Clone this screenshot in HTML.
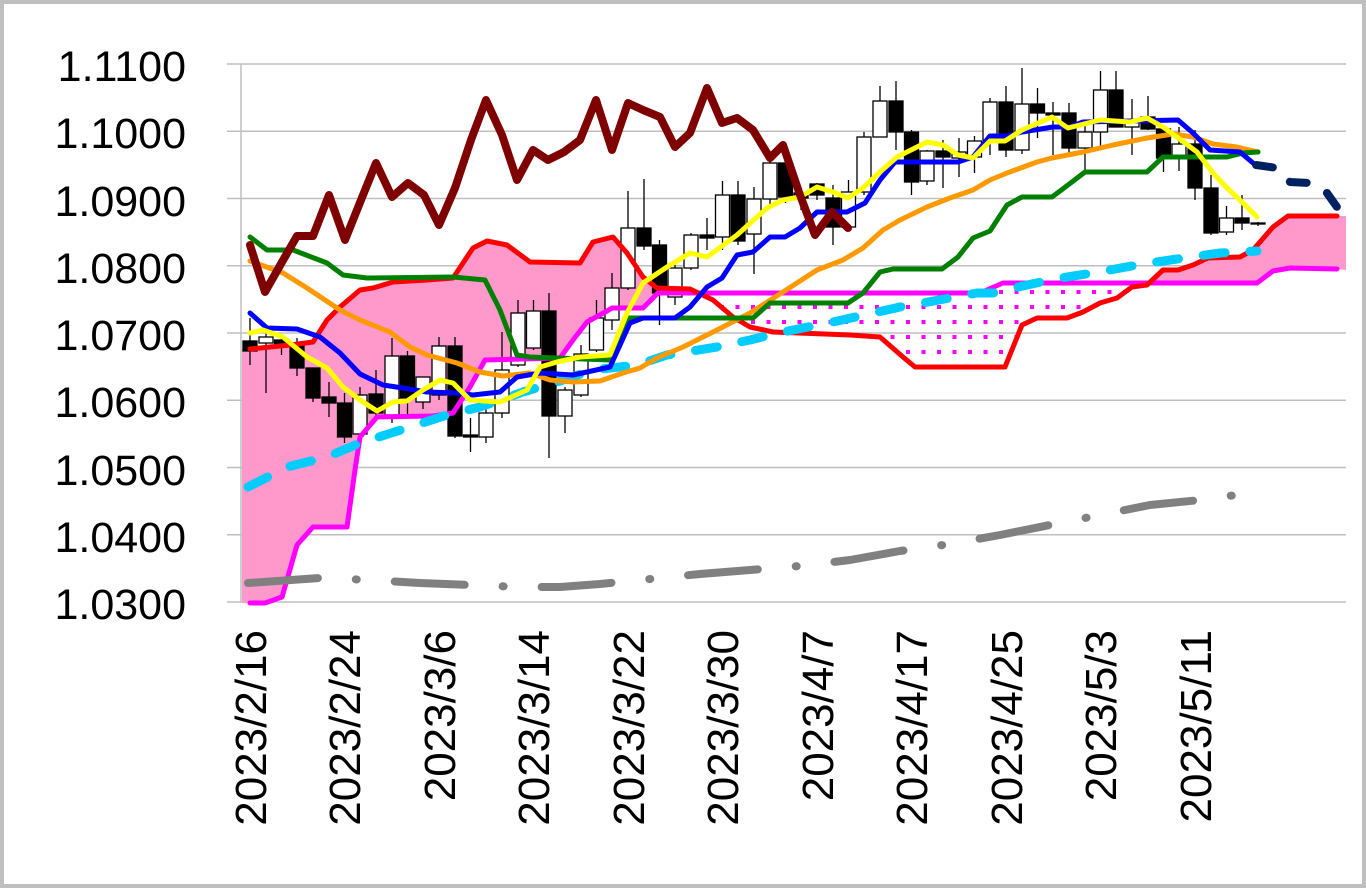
<!DOCTYPE html>
<html><head><meta charset="utf-8"><style>html,body{margin:0;padding:0;background:#fff}svg{display:block}</style></head><body>
<svg width="1366" height="888" viewBox="0 0 1366 888" xmlns="http://www.w3.org/2000/svg">
<defs>
<pattern id="dots" x="2" y="0" width="15.5" height="15" patternUnits="userSpaceOnUse"><rect x="5" y="5" width="4" height="4" fill="#ff00ff"/></pattern>
</defs>
<rect x="0" y="0" width="1366" height="888" fill="#fff"/>
<rect x="2" y="2" width="1362" height="884" fill="none" stroke="#bfbfbf" stroke-width="4"/>
<g stroke="#bfbfbf" stroke-width="1.5">
<line x1="227" y1="64" x2="1346" y2="64"/><line x1="227" y1="131.25" x2="1346" y2="131.25"/><line x1="227" y1="198.5" x2="1346" y2="198.5"/><line x1="227" y1="265.75" x2="1346" y2="265.75"/><line x1="227" y1="333" x2="1346" y2="333"/><line x1="227" y1="400.25" x2="1346" y2="400.25"/><line x1="227" y1="467.5" x2="1346" y2="467.5"/><line x1="227" y1="534.75" x2="1346" y2="534.75"/><line x1="227" y1="602" x2="1346" y2="602"/>
<line x1="241" y1="64" x2="241" y2="602"/>
</g>
<g font-family="Liberation Sans, Arial, sans-serif" font-size="43" text-anchor="end" fill="#000">
<text x="186" y="81">1.1100</text><text x="186" y="148">1.1000</text><text x="186" y="216">1.0900</text><text x="186" y="283">1.0800</text><text x="186" y="350">1.0700</text><text x="186" y="417">1.0600</text><text x="186" y="485">1.0500</text><text x="186" y="552">1.0400</text><text x="186" y="619">1.0300</text>
</g>
<g font-family="Liberation Sans, Arial, sans-serif" font-size="44" text-anchor="end" fill="#000">
<text transform="translate(266,630) rotate(-90)">2023/2/16</text>
<text transform="translate(360,630) rotate(-90)">2023/2/24</text>
<text transform="translate(455,630) rotate(-90)">2023/3/6</text>
<text transform="translate(549,630) rotate(-90)">2023/3/14</text>
<text transform="translate(644,630) rotate(-90)">2023/3/22</text>
<text transform="translate(738,630) rotate(-90)">2023/3/30</text>
<text transform="translate(833,630) rotate(-90)">2023/4/7</text>
<text transform="translate(927,630) rotate(-90)">2023/4/17</text>
<text transform="translate(1022,630) rotate(-90)">2023/4/25</text>
<text transform="translate(1116,630) rotate(-90)">2023/5/3</text>
<text transform="translate(1211,630) rotate(-90)">2023/5/11</text>
</g>
<polygon fill="#ff99cc" points="242,349 250,349 270,347 290,345 313,342 327,320 340,307 360,290 373,288 393,282 427,280 453,278 473,248 487,241 507,245 530,262 580,263 593,242 613,237 627,253 643,277 657,288 660,291 658,293 643,308 612,308 607,311 587,322 573,340 560,358 485,360 470,387 453,413 433,416 377,417 360,437 355,470 347,527 313,527 297,545 282,597 265,603 242,603"/>
<polygon fill="url(#dots)" points="658,293 980,293 1003,283 1140,283 1132,287 1117,298 1100,303 1083,312 1067,318 1037,318 1022,325 1005,367 915,367 903,357 880,337 850,335 773,332 750,327 733,317 713,300 690,289 660,291"/>
<polygon fill="#ff99cc" points="1140,285 1147,285 1163,270 1178,270 1193,265 1208,258 1240,257 1253,250 1273,227 1288,216 1346,216 1346,270 1337,269 1290,268 1273,271 1257,283 1140,283"/>
<g stroke="#000" stroke-width="1.3">
<line x1="250" y1="318" x2="250" y2="365"/><rect x="243" y="341" width="14" height="10" fill="#000"/>
<line x1="266" y1="330" x2="266" y2="393"/><rect x="259" y="337" width="14" height="6" fill="#fff"/>
<line x1="281.5" y1="337" x2="281.5" y2="355"/><rect x="274.5" y="340" width="14" height="5" fill="#000"/>
<line x1="297" y1="338" x2="297" y2="376"/><rect x="290" y="343" width="14" height="25" fill="#000"/>
<line x1="313" y1="368" x2="313" y2="402"/><rect x="306" y="368" width="14" height="30" fill="#000"/>
<line x1="329" y1="382" x2="329" y2="417"/><rect x="322" y="397" width="14" height="6" fill="#000"/>
<line x1="344.5" y1="393" x2="344.5" y2="443"/><rect x="337.5" y="403" width="14" height="34" fill="#000"/>
<line x1="360" y1="387" x2="360" y2="437"/><rect x="353" y="395" width="14" height="39" fill="#fff"/>
<line x1="376" y1="370" x2="376" y2="415"/><rect x="369" y="394" width="14" height="19" fill="#000"/>
<line x1="392" y1="338" x2="392" y2="423"/><rect x="385" y="356" width="14" height="59" fill="#fff"/>
<line x1="407.5" y1="351" x2="407.5" y2="415"/><rect x="400.5" y="356" width="14" height="42" fill="#000"/>
<line x1="423" y1="377" x2="423" y2="409"/><rect x="416" y="377" width="14" height="25" fill="#fff"/>
<line x1="439" y1="337" x2="439" y2="400"/><rect x="432" y="346" width="14" height="49" fill="#fff"/>
<line x1="455" y1="337" x2="455" y2="438"/><rect x="448" y="346" width="14" height="90" fill="#000"/>
<line x1="470.5" y1="418" x2="470.5" y2="452"/><rect x="463.5" y="435" width="14" height="2" fill="#000"/>
<line x1="486" y1="407" x2="486" y2="443"/><rect x="479" y="413" width="14" height="24" fill="#fff"/>
<line x1="502" y1="332" x2="502" y2="418"/><rect x="495" y="370" width="14" height="43" fill="#fff"/>
<line x1="518" y1="300" x2="518" y2="367"/><rect x="511" y="313" width="14" height="52" fill="#fff"/>
<line x1="533.5" y1="300" x2="533.5" y2="350"/><rect x="526.5" y="311" width="14" height="37" fill="#fff"/>
<line x1="549" y1="293" x2="549" y2="458"/><rect x="542" y="311" width="14" height="105" fill="#000"/>
<line x1="565" y1="387" x2="565" y2="433"/><rect x="558" y="390" width="14" height="26" fill="#fff"/>
<line x1="581" y1="345" x2="581" y2="397"/><rect x="574" y="354" width="14" height="41" fill="#fff"/>
<line x1="596.5" y1="300" x2="596.5" y2="352"/><rect x="589.5" y="318" width="14" height="32" fill="#fff"/>
<line x1="612" y1="273" x2="612" y2="330"/><rect x="605" y="288" width="14" height="32" fill="#fff"/>
<line x1="628" y1="191" x2="628" y2="290"/><rect x="621" y="228" width="14" height="60" fill="#fff"/>
<line x1="644" y1="179" x2="644" y2="250"/><rect x="637" y="228" width="14" height="18" fill="#000"/>
<line x1="659.5" y1="240" x2="659.5" y2="325"/><rect x="652.5" y="245" width="14" height="48" fill="#000"/>
<line x1="675" y1="265" x2="675" y2="305"/><rect x="668" y="268" width="14" height="29" fill="#fff"/>
<line x1="691" y1="233" x2="691" y2="270"/><rect x="684" y="235" width="14" height="33" fill="#fff"/>
<line x1="707" y1="218" x2="707" y2="250"/><rect x="700" y="235" width="14" height="3" fill="#000"/>
<line x1="722.5" y1="181" x2="722.5" y2="250"/><rect x="715.5" y="195" width="14" height="42" fill="#fff"/>
<line x1="738" y1="181" x2="738" y2="245"/><rect x="731" y="195" width="14" height="46" fill="#000"/>
<line x1="754" y1="187" x2="754" y2="274"/><rect x="747" y="199" width="14" height="35" fill="#fff"/>
<line x1="770" y1="155" x2="770" y2="205"/><rect x="763" y="163" width="14" height="36" fill="#fff"/>
<line x1="785.5" y1="155" x2="785.5" y2="203"/><rect x="778.5" y="163" width="14" height="34" fill="#000"/>
<line x1="801" y1="188" x2="801" y2="210"/><rect x="794" y="193" width="14" height="5" fill="#000"/>
<line x1="817" y1="183" x2="817" y2="200"/><rect x="810" y="184" width="14" height="11" fill="#000"/>
<line x1="833" y1="185" x2="833" y2="245"/><rect x="826" y="198" width="14" height="29" fill="#000"/>
<line x1="848.5" y1="180" x2="848.5" y2="227"/><rect x="841.5" y="192" width="14" height="35" fill="#fff"/>
<line x1="864" y1="132" x2="864" y2="195"/><rect x="857" y="137" width="14" height="55" fill="#fff"/>
<line x1="880" y1="86" x2="880" y2="137"/><rect x="873" y="101" width="14" height="36" fill="#fff"/>
<line x1="896" y1="81" x2="896" y2="150"/><rect x="889" y="101" width="14" height="31" fill="#000"/>
<line x1="911.5" y1="130" x2="911.5" y2="195"/><rect x="904.5" y="132" width="14" height="50" fill="#000"/>
<line x1="927" y1="150" x2="927" y2="185"/><rect x="920" y="151" width="14" height="30" fill="#fff"/>
<line x1="943" y1="140" x2="943" y2="188"/><rect x="936" y="151" width="14" height="6" fill="#000"/>
<line x1="959" y1="138" x2="959" y2="177"/><rect x="952" y="152" width="14" height="6" fill="#fff"/>
<line x1="974.5" y1="136" x2="974.5" y2="173"/><rect x="967.5" y="141" width="14" height="16" fill="#fff"/>
<line x1="990" y1="98" x2="990" y2="155"/><rect x="983" y="102" width="14" height="38" fill="#fff"/>
<line x1="1006" y1="86" x2="1006" y2="157"/><rect x="999" y="102" width="14" height="48" fill="#000"/>
<line x1="1022" y1="68" x2="1022" y2="154"/><rect x="1015" y="104" width="14" height="46" fill="#fff"/>
<line x1="1037.5" y1="88" x2="1037.5" y2="138"/><rect x="1030.5" y="104" width="14" height="9" fill="#000"/>
<line x1="1053" y1="102" x2="1053" y2="155"/><rect x="1046" y="113" width="14" height="2" fill="#000"/>
<line x1="1069" y1="103" x2="1069" y2="155"/><rect x="1062" y="113" width="14" height="35" fill="#000"/>
<line x1="1085" y1="125" x2="1085" y2="170"/><rect x="1078" y="132" width="14" height="16" fill="#fff"/>
<line x1="1100.5" y1="71" x2="1100.5" y2="150"/><rect x="1093.5" y="90" width="14" height="42" fill="#fff"/>
<line x1="1116" y1="71" x2="1116" y2="127"/><rect x="1109" y="90" width="14" height="37" fill="#000"/>
<line x1="1132" y1="99" x2="1132" y2="155"/><rect x="1125" y="120" width="14" height="7" fill="#fff"/>
<line x1="1148" y1="96" x2="1148" y2="130"/><rect x="1141" y="117" width="14" height="12" fill="#000"/>
<line x1="1163.5" y1="125" x2="1163.5" y2="172"/><rect x="1156.5" y="129" width="14" height="29" fill="#000"/>
<line x1="1179" y1="127" x2="1179" y2="171"/><rect x="1172" y="144" width="14" height="14" fill="#fff"/>
<line x1="1195" y1="130" x2="1195" y2="200"/><rect x="1188" y="144" width="14" height="44" fill="#000"/>
<line x1="1211" y1="175" x2="1211" y2="235"/><rect x="1204" y="188" width="14" height="45" fill="#000"/>
<line x1="1226.5" y1="206" x2="1226.5" y2="235"/><rect x="1219.5" y="218" width="14" height="14" fill="#fff"/>
<line x1="1242" y1="195" x2="1242" y2="230"/><rect x="1235" y="218" width="14" height="5" fill="#000"/>
<line x1="1258" y1="222" x2="1258" y2="226"/><rect x="1251" y="223" width="14" height="1" fill="#fff"/>
</g>
<g fill="none" stroke-linejoin="round" stroke-linecap="round">
<polyline stroke="#ff00ff" stroke-width="5" points="250,603 265,603 282,597 297,545 313,527 347,527 355,470 360,437 377,417 433,416 453,413 470,387 485,360 560,358 573,340 587,322 607,311 612,308 643,308 658,293 980,293 1003,283 1257,283 1273,271 1290,268 1337,269"/>
<polyline stroke="#ff0000" stroke-width="5" points="250,349 270,347 290,345 313,342 327,320 340,307 360,290 373,288 393,282 427,280 453,278 473,248 487,241 507,245 530,262 580,263 593,242 613,237 627,253 643,277 657,288 690,289 713,300 733,317 750,327 773,332 850,335 880,337 903,357 915,367 1005,367 1022,325 1037,318 1067,318 1083,312 1100,303 1117,298 1132,287 1147,285 1163,270 1178,270 1193,265 1208,258 1240,257 1253,250 1273,227 1288,216 1337,216"/>
<path stroke="#808080" stroke-width="8" stroke-dasharray="70 38 1 38" d="M248,583 L320,578 L370,580 L420,583 L470,585 L520,587 L560,587 L600,584 L650,579 L700,574 L750,570 L800,566 L850,560 L900,551 L950,544 L1000,535 L1050,525 L1100,515 L1150,505 L1200,500 L1243,494"/>
<polyline stroke="#00ccff" stroke-width="9" stroke-dasharray="22 25" points="248,487 287,467 327,457 360,443 407,428 447,415 480,407 523,392 557,382 593,370 637,365 667,355 717,347 750,340 783,332 833,322 900,307 950,298 977,293 993,293 1027,285 1060,278 1093,273 1143,264 1177,259 1220,253 1257,251"/>
<polyline stroke="#ff9900" stroke-width="5" points="250,261 283,273 307,288 340,310 360,320 390,332 410,347 427,355 457,363 480,372 503,376 530,373 550,380 573,382 600,381 623,373 640,368 657,358 683,347 717,330 750,313 783,292 817,270 843,260 863,248 883,230 900,220 927,207 950,198 973,190 990,180 1007,173 1037,162 1052,158 1083,152 1113,145 1147,138 1173,134 1193,137 1213,144 1237,147 1258,152"/>
<polyline stroke="#008000" stroke-width="5" points="250,237 267,250 293,250 327,263 343,275 367,278 453,277 485,280 500,310 517,355 530,357 610,360 628,318 753,318 770,303 848,303 863,293 880,272 893,269 942,269 958,257 973,238 990,231 1007,205 1022,197 1052,197 1068,185 1085,172 1147,172 1163,157 1227,157 1243,153 1258,152"/>
<polyline stroke="#0000ff" stroke-width="5" points="250,313 267,328 297,329 320,337 340,353 360,374 383,385 403,388 427,392 457,393 473,395 500,392 517,377 540,373 573,375 610,367 630,323 643,318 675,318 690,307 707,287 722,278 737,255 753,252 770,237 785,237 800,228 817,212 847,212 865,203 880,180 895,162 958,162 973,157 990,136 1007,136 1022,132 1053,127 1070,127 1083,122 1178,120 1193,133 1210,150 1240,152 1253,163"/>
<polyline stroke="#002060" stroke-width="8" stroke-dasharray="17 23" points="1256,165 1277,168 1290,182 1310,183 1327,193 1337,207"/>
<polyline stroke="#ffff00" stroke-width="5" points="250,333 263,330 283,337 307,357 327,368 343,387 360,400 377,411 393,402 407,401 423,390 440,380 453,383 470,400 500,402 527,390 540,367 557,362 580,357 610,355 627,313 643,283 667,267 690,253 707,257 737,235 767,208 783,200 800,197 817,187 833,192 848,198 863,188 880,172 897,157 927,142 943,145 958,155 973,158 990,141 1005,141 1022,130 1052,117 1068,128 1100,120 1130,122 1147,118 1163,127 1177,137 1197,152 1213,173 1227,188 1242,202 1257,217"/>
<polyline stroke="#7f0000" stroke-width="8" points="250,245 265,292 282,262 297,236 313,236 329,195 345,240 361,200 376,163 392,197 408,183 424,195 439,225 455,188 471,140 486,100 502,135 517,180 533,150 548,160 564,152 580,140 596,100 612,150 628,103 643,110 660,117 675,147 690,133 707,88 722,123 737,118 753,130 770,158 783,145 800,195 815,235 832,212 848,228"/>
</g>
</svg>
</body></html>
